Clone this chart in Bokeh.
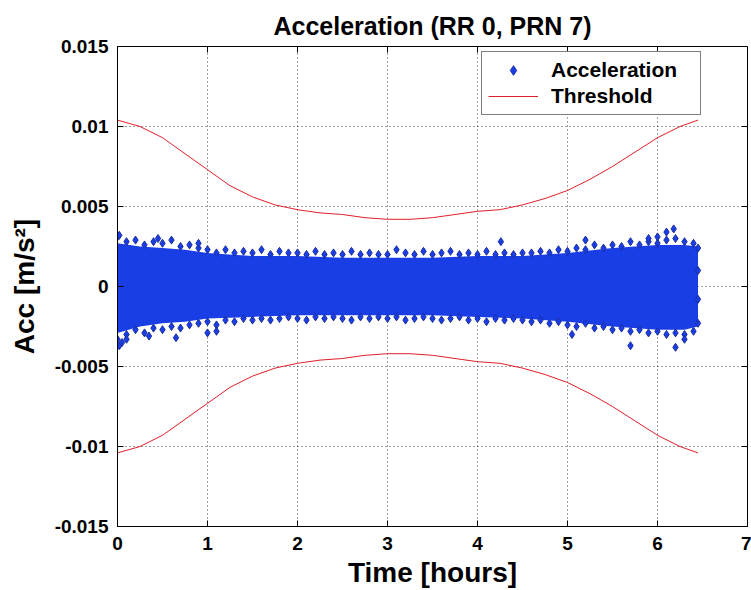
import math
from bokeh.plotting import figure
from bokeh.models import FixedTicker, Legend, LegendItem, Title
from bokeh.embed import file_html
from bokeh.resources import INLINE

# Threshold envelope (m/s^2) vs time (hours); the lower bound mirrors it
thr_t = [0.0, 0.25, 0.5, 0.75, 1.0, 1.25, 1.5, 1.75, 2.0, 2.25, 2.5, 2.75, 3.0,
         3.25, 3.5, 3.75, 4.0, 4.25, 4.5, 4.75, 5.0, 5.25, 5.5, 5.75, 6.0, 6.25, 6.45]
thr_v = [0.0104, 0.0100, 0.0093, 0.0083, 0.0073, 0.0063, 0.0056, 0.0051, 0.0048,
         0.0046, 0.0045, 0.0043, 0.0042, 0.0042, 0.0043, 0.0045, 0.0047, 0.0048,
         0.0051, 0.0055, 0.0060, 0.0067, 0.0075, 0.0084, 0.0093, 0.0100, 0.0104]

# Dense core of the acceleration samples: upper / lower extent vs time
core_t = [0.0, 0.25, 0.5, 0.75, 1.0, 1.5, 2.0, 2.5, 3.0, 3.5, 4.0, 4.5, 5.0, 5.5,
          6.0, 6.3, 6.45]
core_hi = [0.0027, 0.0025, 0.0024, 0.0023, 0.0021, 0.0019, 0.0019, 0.0018, 0.0018,
           0.0018, 0.0019, 0.0019, 0.0021, 0.0024, 0.0026, 0.0026, 0.0025]
core_lo = [-0.0029, -0.0025, -0.0023, -0.0022, -0.0020, -0.0019, -0.0018, -0.0018,
           -0.0018, -0.0018, -0.0019, -0.0020, -0.0022, -0.0025, -0.0027, -0.0027,
           -0.0025]

# Individual samples along the edges of the cloud
edge_t = [0.0, 0.1, 0.2, 0.3, 0.4, 0.5, 0.6, 0.7, 0.8, 0.9, 1.0, 1.1, 1.2, 1.3,
          1.4, 1.5, 1.6, 1.7, 1.8, 1.9, 2.0, 2.1, 2.2, 2.3, 2.4, 2.5, 2.6, 2.7,
          2.8, 2.9, 3.0, 3.1, 3.2, 3.3, 3.4, 3.5, 3.6, 3.7, 3.8, 3.9, 4.0, 4.1,
          4.2, 4.3, 4.4, 4.5, 4.6, 4.7, 4.8, 4.9, 5.0, 5.1, 5.2, 5.3, 5.4, 5.5,
          5.6, 5.7, 5.8, 5.9, 6.0, 6.1, 6.2, 6.3, 6.4]
edge_hi = [0.0031, 0.0028, 0.0029, 0.0026, 0.0028, 0.0027, 0.0029, 0.0025, 0.0026,
           0.0024, 0.0023, 0.0021, 0.0023, 0.0021, 0.0022, 0.0021, 0.0023, 0.0020,
           0.0022, 0.0021, 0.0021, 0.0020, 0.0022, 0.0020, 0.0021, 0.0020, 0.0022,
           0.0020, 0.0021, 0.0020, 0.0020, 0.0023, 0.0021, 0.0020, 0.0022, 0.0020,
           0.0021, 0.0022, 0.0020, 0.0021, 0.0020, 0.0022, 0.0020, 0.0021, 0.0020,
           0.0021, 0.0021, 0.0022, 0.0021, 0.0023, 0.0022, 0.0024, 0.0023, 0.0026,
           0.0024, 0.0026, 0.0025, 0.0028, 0.0026, 0.0028, 0.0027, 0.0029, 0.0030,
           0.0028, 0.0027]
edge_lo = [-0.0033, -0.0030, -0.0027, -0.0029, -0.0026, -0.0027, -0.0025, -0.0026,
           -0.0024, -0.0023, -0.0022, -0.0024, -0.0021, -0.0022, -0.0020, -0.0021,
           -0.0020, -0.0021, -0.0020, -0.0019, -0.0020, -0.0021, -0.0019, -0.0020,
           -0.0019, -0.0020, -0.0021, -0.0019, -0.0020, -0.0019, -0.0020, -0.0019,
           -0.0021, -0.0020, -0.0019, -0.0020, -0.0021, -0.0020, -0.0019, -0.0021,
           -0.0020, -0.0022, -0.0020, -0.0021, -0.0020, -0.0021, -0.0022, -0.0021,
           -0.0023, -0.0022, -0.0024, -0.0025, -0.0023, -0.0026, -0.0025, -0.0027,
           -0.0026, -0.0028, -0.0027, -0.0029, -0.0028, -0.0030, -0.0029, -0.0030,
           -0.0028]

# Isolated samples outside the main cloud
out_t = [0.02, 0.02, 0.05, 0.1, 0.35, 0.45, 0.65, 0.9, 1.0, 1.1, 4.26, 5.05, 5.2,
         5.7, 5.9, 6.0, 6.1, 6.18, 6.2, 6.3, 6.45, 6.45, 6.45, 6.45]
out_v = [0.0032, -0.0037, -0.0035, -0.0033, -0.0031, 0.0030, -0.0032, 0.0027,
         -0.0029, -0.0028, 0.0028, -0.0030, 0.0029, -0.0037, 0.0030, 0.0031,
         0.0034, 0.0036, -0.0038, -0.0033, 0.0024, 0.0010, -0.0008, -0.0023]

y_ticks = [-0.015, -0.01, -0.005, 0, 0.005, 0.01, 0.015]
y_tick_labels = ["-0.015", "-0.01", "-0.005", "0", "0.005", "0.01", "0.015"]
x_ticks = [0, 1, 2, 3, 4, 5, 6, 7]

FONT = "Liberation Sans"
BLUE = "#1a3ee6"
EDGE = "#1c2ea0"
RED = "#e0202a"

p = figure(width=751, height=590, x_range=(0, 7), y_range=(-0.015, 0.015),
           output_backend="svg", toolbar_location=None,
           min_border_left=117, min_border_right=4, min_border_top=46,
           min_border_bottom=63)
p.title = None
p.add_layout(Title(text="Acceleration (RR 0, PRN 7)", align="center",
                   text_font=FONT, text_font_size="25px", text_font_style="bold",
                   text_color="black", offset=0, standoff=14), "above")

p.outline_line_color = "black"
p.outline_line_width = 1
p.background_fill_color = "white"
p.border_fill_color = "white"

# Axes: bottom / left with labels, ticks pointing inward
for ax in (p.xaxis[0], p.yaxis[0]):
    ax.major_tick_in = 6
    ax.major_tick_out = 0
    ax.minor_tick_line_color = None
    ax.axis_line_color = "black"
    ax.major_tick_line_color = "black"
    ax.major_label_text_font = FONT
    ax.major_label_text_font_size = "19px"
    ax.major_label_text_font_style = "bold"
    ax.major_label_text_color = "black"
    ax.axis_label_text_font = FONT
    ax.axis_label_text_font_size = "28px"
    ax.axis_label_text_font_style = "bold"
    ax.axis_label_text_color = "black"

p.xaxis.ticker = FixedTicker(ticks=x_ticks)
p.yaxis.ticker = FixedTicker(ticks=y_ticks)
p.yaxis.major_label_overrides = {t: s for t, s in zip(y_ticks, y_tick_labels)}
p.xaxis.axis_label = "Time [hours]"
p.yaxis.axis_label = "Acc [m/s²]"
p.xaxis.major_label_standoff = 10
p.yaxis.major_label_standoff = 9
p.xaxis.axis_label_standoff = 4
p.yaxis.axis_label_standoff = 12

p.xgrid.ticker = FixedTicker(ticks=x_ticks)
p.ygrid.ticker = FixedTicker(ticks=y_ticks)
for g in (p.xgrid[0], p.ygrid[0]):
    g.grid_line_color = "black"
    g.grid_line_dash = "1 3"
    g.grid_line_width = 1
    g.grid_line_alpha = 0.75

# Sample cloud
p.varea(x=core_t, y1=core_lo, y2=core_hi, fill_color=BLUE)
p.scatter(edge_t, edge_hi, marker="diamond", size=8, fill_color=BLUE, line_color=EDGE)
p.scatter(edge_t, edge_lo, marker="diamond", size=8, fill_color=BLUE, line_color=EDGE)
acc = p.scatter(out_t, out_v, marker="diamond", size=8, fill_color=BLUE,
                line_color=EDGE)

# Thresholds
thr_neg = [-v for v in thr_v]
thr_up = p.line(thr_t, thr_v, line_color=RED, line_width=1)
p.line(thr_t, thr_neg, line_color=RED, line_width=1)

# Inward tick marks mirrored on the top and right edges (clipped to the frame)
p.scatter(x_ticks, [y_ticks[-1]] * len(x_ticks), marker="dash", size=12,
          angle=math.pi / 2, line_color="black", line_width=1)
p.scatter([x_ticks[-1]] * len(y_ticks), y_ticks, marker="dash", size=12,
          line_color="black", line_width=1)

legend = Legend(items=[LegendItem(label="Acceleration", renderers=[acc]),
                       LegendItem(label="Threshold", renderers=[thr_up])],
                location=(364, 411), margin=0, padding=6, spacing=2,
                glyph_width=50, glyph_height=24, label_height=24,
                label_width=143, label_standoff=13,
                label_text_font=FONT, label_text_font_size="21px",
                label_text_font_style="bold", label_text_color="black",
                border_line_color="black", border_line_width=1,
                background_fill_color="white", background_fill_alpha=1)
p.add_layout(legend, "center")

open("out.html", "w").write(file_html(p, INLINE))
